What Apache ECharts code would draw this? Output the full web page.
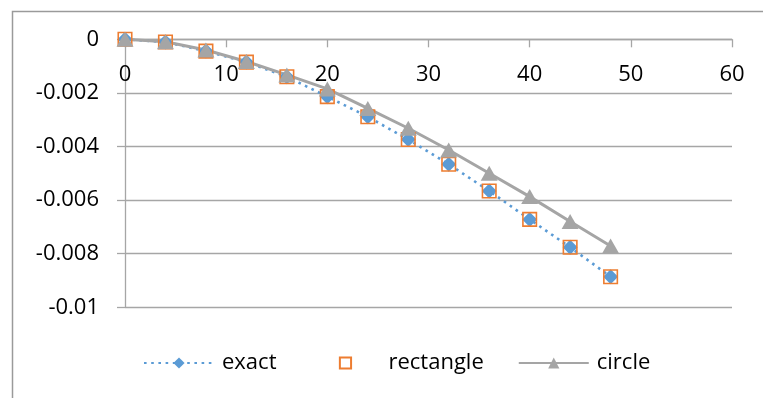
<!DOCTYPE html>
<html>
<head>
<meta charset="utf-8">
<script src="https://cdn.jsdelivr.net/npm/echarts@6/dist/echarts.min.js"></script>
<style>
html,body{margin:0;padding:0;background:#fff;}
#chart{width:763px;height:398px;}
</style>
</head>
<body>
<div id="chart"></div>
<script>
var xValues = [0, 4, 8, 12, 16, 20, 24, 28, 32, 36, 40, 44, 48];
var exactValues = [0, -0.0001, -0.00044, -0.00085, -0.0014, -0.00214, -0.00289, -0.00374, -0.00466, -0.00566, -0.00672, -0.00776, -0.00886];
var rectangleValues = [0, -0.0001, -0.00044, -0.00085, -0.0014, -0.00214, -0.00289, -0.00374, -0.00466, -0.00566, -0.00672, -0.00776, -0.00886];
var circleValues = [0, -0.00009, -0.0004, -0.00083, -0.00133, -0.00185, -0.00258, -0.00332, -0.00413, -0.005, -0.00587, -0.0068, -0.00771];
var yTickLabels = ['0', '-0.002', '-0.004', '-0.006', '-0.008', '-0.01'];
var xTickLabels = ['0', '10', '20', '30', '40', '50', '60'];
var seriesNames = ['exact', 'rectangle', 'circle'];

function pairs(xs, ys) { return xs.map(function (x, i) { return [x, ys[i]]; }); }

var FONT = 'Open Sans';
var chart = echarts.init(document.getElementById('chart'), null, {renderer: 'canvas'});
chart.setOption({
  animation: false,
  backgroundColor: '#fff',
  graphic: [{
    type: 'rect', left: 10, top: 9, silent: true,
    shape: {x: 0, y: 0, width: 800, height: 420},
    style: {fill: 'none', stroke: '#9a9a9a', lineWidth: 1.5}
  }],
  grid: {left: 125, right: 31, top: 39.3, bottom: 90.7, containLabel: false},
  xAxis: {
    type: 'value', min: 0, max: 60, interval: 10, position: 'top',
    axisLine: {show: true, onZero: false, lineStyle: {color: '#a6a6a6', width: 1.3}},
    axisTick: {show: true, inside: true, length: 8, lineStyle: {color: '#a6a6a6', width: 1.3}},
    splitLine: {show: false},
    axisLabel: {
      inside: true,
      color: '#000', fontFamily: FONT, fontSize: 22, margin: 24,
      formatter: function (v) { var i = Math.round(v / 10); return xTickLabels[i] !== undefined ? xTickLabels[i] : ''; }
    }
  },
  yAxis: {
    type: 'value', min: -0.01, max: 0, interval: 0.002,
    axisLine: {show: true, onZero: false, lineStyle: {color: '#a6a6a6', width: 1.3}},
    axisTick: {show: true, length: 8, lineStyle: {color: '#a6a6a6', width: 1.3}},
    splitLine: {show: true, lineStyle: {color: '#a6a6a6', width: 1.3}},
    axisLabel: {
      color: '#000', fontFamily: FONT, fontSize: 22, margin: 26,
      formatter: function (v) { var i = Math.round(-v / 0.002); return yTickLabels[i] !== undefined ? yTickLabels[i] : ''; }
    }
  },
  legend: {
    left: 138, top: 347, itemWidth: 70, itemHeight: 14, itemGap: 34,
    textStyle: {color: '#000', fontFamily: FONT, fontSize: 22, padding: [0, 0, 0, 3]},
    data: seriesNames
  },
  series: [
    {
      name: seriesNames[0], type: 'line', data: pairs(xValues, exactValues),
      symbol: 'diamond', symbolSize: [15, 15],
      itemStyle: {color: '#5b9bd5'},
      lineStyle: {color: '#5b9bd5', width: 2.6, type: [2.6, 4.6]}
    },
    {
      name: seriesNames[1], type: 'line', data: pairs(xValues, rectangleValues),
      symbol: 'rect', symbolSize: [13.5, 13.5],
      itemStyle: {color: 'rgba(255,255,255,0)', borderColor: '#ed7d31', borderWidth: 1.6},
      lineStyle: {width: 0, opacity: 0}
    },
    {
      name: seriesNames[2], type: 'line', data: pairs(xValues, circleValues),
      symbol: 'triangle', symbolSize: [17, 15],
      itemStyle: {color: '#a5a5a5'},
      lineStyle: {color: '#a5a5a5', width: 3}
    }
  ]
});
</script>
</body>
</html>
